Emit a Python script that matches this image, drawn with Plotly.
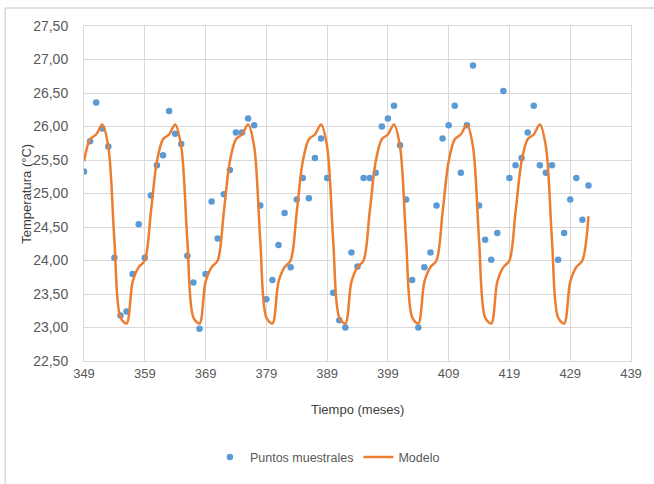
import plotly.graph_objects as go

# Sample points (month, temperature)
meses = list(range(349, 433))
temperatura = [
    25.33, 25.78, 26.36, 25.97, 25.70, 24.04, 23.18, 23.24, 23.80, 24.54,
    24.04, 24.97, 25.42, 25.57, 26.23, 25.89, 25.74, 24.07, 23.67, 22.98,
    23.80, 24.88, 24.33, 24.99, 25.35, 25.91, 25.91, 26.12, 26.02, 24.82,
    23.42, 23.71, 24.23, 24.71, 23.90, 24.91, 25.23, 24.93, 25.53, 25.82,
    25.23, 23.52, 23.11, 23.00, 24.12, 23.91, 25.23, 25.23, 25.31, 26.00,
    26.12, 26.31, 25.72, 24.91, 23.71, 23.00, 23.90, 24.12, 24.82, 25.82,
    26.02, 26.31, 25.31, 26.02, 26.91, 24.82, 24.31, 24.01, 24.41, 26.53,
    25.23, 25.42, 25.53, 25.91, 26.31, 25.42, 25.31, 25.42, 24.01, 24.41,
    24.91, 25.23, 24.61, 25.12,
]

# Model values, one per month (periodic curve)
modelo = [
    25.48, 25.81, 25.88,
    26.03, 25.70, 24.30, 23.15, 23.06, 23.68, 23.90, 24.00, 24.72, 25.48, 25.81, 25.88,
    26.03, 25.70, 24.30, 23.15, 23.06, 23.68, 23.90, 24.00, 24.72, 25.48, 25.81, 25.88,
    26.03, 25.70, 24.30, 23.15, 23.06, 23.68, 23.90, 24.00, 24.72, 25.48, 25.81, 25.88,
    26.03, 25.70, 24.30, 23.15, 23.06, 23.68, 23.90, 24.00, 24.72, 25.48, 25.81, 25.88,
    26.03, 25.70, 24.30, 23.15, 23.06, 23.68, 23.90, 24.00, 24.72, 25.48, 25.81, 25.88,
    26.03, 25.70, 24.30, 23.15, 23.06, 23.68, 23.90, 24.00, 24.72, 25.48, 25.81, 25.88,
    26.03, 25.70, 24.30, 23.15, 23.06, 23.68, 23.90, 24.00, 24.66,
]

x_ticks = list(range(349, 440, 10))
y_ticks = [22.5, 23.0, 23.5, 24.0, 24.5, 25.0, 25.5, 26.0, 26.5, 27.0, 27.5]

FONT = "Liberation Sans, Arial, sans-serif"
TXT = "#595959"
GRID = "#d9d9d9"

fig = go.Figure()
fig.add_trace(go.Scatter(
    x=meses, y=temperatura, mode="markers", name="Puntos muestrales",
    marker=dict(color="#5B9BD5", size=6.5),
))
fig.add_trace(go.Scatter(
    x=meses, y=modelo, mode="lines", name="Modelo",
    line=dict(color="#ED7D31", width=2.5, shape="spline", smoothing=0.9),
))

L, R, T, B = 84, 21, 26, 121
W, H = 654, 484
pw = W - L - R
ph = H - T - B

def px_x(p):
    return (p - L) / pw

def px_y(p):
    return (H - B - p) / ph

fig.update_layout(
    width=W, height=H,
    margin=dict(l=L, r=R, t=T, b=B),
    paper_bgcolor="white", plot_bgcolor="white",
    separators=",.",
    font=dict(family=FONT, size=13, color=TXT),
    showlegend=True,
    legend=dict(orientation="h", x=0.445, xanchor="center", y=px_y(460), yanchor="middle",
                font=dict(size=12.5, color=TXT), itemwidth=30),
    xaxis=dict(range=[349, 439], tickvals=x_ticks, ticktext=[str(v) for v in x_ticks],
               showgrid=True, gridcolor=GRID, gridwidth=1,
               showline=True, linecolor=GRID, linewidth=1, mirror=True,
               zeroline=False, ticks="", tickfont=dict(size=13, color=TXT)),
    yaxis=dict(range=[22.5, 27.5], tickvals=y_ticks, tickformat=".2f",
               showgrid=True, gridcolor=GRID, gridwidth=1,
               showline=True, linecolor=GRID, linewidth=1, mirror=True,
               zeroline=False, ticks="", ticklabelstandoff=12,
               tickfont=dict(size=14, color=TXT)),
    annotations=[
        dict(text="Tiempo (meses)", xref="paper", yref="paper", x=0.5, y=px_y(412),
             xanchor="center", yanchor="middle", showarrow=False,
             font=dict(size=13, color="#404040")),
        dict(text="Temperatura (°C)", xref="paper", yref="paper", x=px_x(26), y=0.5,
             xanchor="center", yanchor="middle", showarrow=False, textangle=-90,
             font=dict(size=13, color="#404040")),
    ],
    shapes=[
        dict(type="line", xref="paper", yref="paper", x0=px_x(5), x1=px_x(660),
             y0=px_y(8), y1=px_y(8), line=dict(color=GRID, width=1.5)),
        dict(type="line", xref="paper", yref="paper", x0=px_x(5), x1=px_x(5),
             y0=px_y(8), y1=px_y(490), line=dict(color=GRID, width=1.5)),
    ],
)

fig.write_html("out.html")
